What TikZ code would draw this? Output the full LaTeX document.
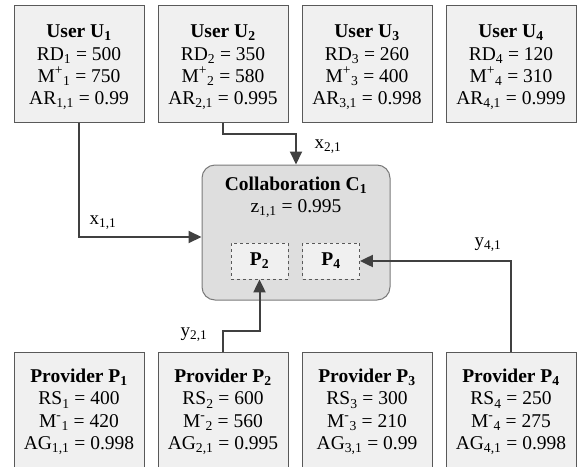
\documentclass[tikz,border=0pt]{standalone}
\usepackage{fontspec}
\setmainfont{Liberation Serif}
\usetikzlibrary{arrows.meta}
\definecolor{boxfill}{HTML}{F0F0F0}
\definecolor{boxline}{HTML}{595959}
\definecolor{collfill}{HTML}{DEDEDE}
\definecolor{collline}{HTML}{7A7A7A}
\definecolor{arrowcol}{HTML}{404040}
\tikzset{
  infobox/.style={draw=boxline, line width=1pt, fill=boxfill, minimum width=130pt, minimum height=117pt, inner sep=0pt},
  boxtext/.style={inner sep=0pt, align=center, font=\fontsize{19.5}{22.4}\selectfont},
  collbox/.style={draw=collline, line width=1pt, fill=collfill, rounded corners=13pt, minimum width=188pt, minimum height=135pt, inner sep=0pt},
  innerbox/.style={draw=boxline, dashed, line width=0.8pt, fill=boxfill, minimum width=57pt, minimum height=36pt, inner sep=0pt, font=\fontsize{19.5}{21}\selectfont\bfseries},
  flow/.style={draw=arrowcol, line width=2pt, -{Triangle[length=13pt,width=12pt]}},
  flowlabel/.style={font=\fontsize{19}{21}\selectfont, inner sep=0pt},
  plaintext/.style={font=\fontsize{19.5}{21}\selectfont, inner sep=0pt, align=center}
}
\begin{document}
\begin{tikzpicture}[x=1pt,y=-1pt]
\useasboundingbox (0,0) rectangle (577,466);
\begin{scope}
\clip (0,0) rectangle (577,466);
% user boxes
\node[infobox, label={[boxtext, yshift=-4pt]center:{\textbf{User U\textsubscript{1}}\\RD\textsubscript{1} = 500\\M\textsuperscript{+}\textsubscript{1} = 750\\AR\textsubscript{1,1} = 0.99}}] (u1) at (79,63.5) {};
\node[infobox, label={[boxtext, yshift=-4pt]center:{\textbf{User U\textsubscript{2}}\\RD\textsubscript{2} = 350\\M\textsuperscript{+}\textsubscript{2} = 580\\AR\textsubscript{2,1} = 0.995}}] (u2) at (223,63.5) {};
\node[infobox, label={[boxtext, yshift=-4pt]center:{\textbf{User U\textsubscript{3}}\\RD\textsubscript{3} = 260\\M\textsuperscript{+}\textsubscript{3} = 400\\AR\textsubscript{3,1} = 0.998}}] (u3) at (367,63.5) {};
\node[infobox, label={[boxtext, yshift=-4pt]center:{\textbf{User U\textsubscript{4}}\\RD\textsubscript{4} = 120\\M\textsuperscript{+}\textsubscript{4} = 310\\AR\textsubscript{4,1} = 0.999}}] (u4) at (511,63.5) {};
% provider boxes
\node[infobox, label={[boxtext, yshift=-1pt]center:{\textbf{Provider P\textsubscript{1}}\\RS\textsubscript{1} = 400\\M\textsuperscript{-}\textsubscript{1} = 420\\AG\textsubscript{1,1} = 0.998}}] (p1) at (79,411) {};
\node[infobox, label={[boxtext, yshift=-1pt]center:{\textbf{Provider P\textsubscript{2}}\\RS\textsubscript{2} = 600\\M\textsuperscript{-}\textsubscript{2} = 560\\AG\textsubscript{2,1} = 0.995}}] (p2) at (223,411) {};
\node[infobox, label={[boxtext, yshift=-1pt]center:{\textbf{Provider P\textsubscript{3}}\\RS\textsubscript{3} = 300\\M\textsuperscript{-}\textsubscript{3} = 210\\AG\textsubscript{3,1} = 0.99}}] (p3) at (367,411) {};
\node[infobox, label={[boxtext, yshift=-1pt]center:{\textbf{Provider P\textsubscript{4}}\\RS\textsubscript{4} = 250\\M\textsuperscript{-}\textsubscript{4} = 275\\AG\textsubscript{4,1} = 0.998}}] (p4) at (511,411) {};
% collaboration
\node[collbox] (c) at (296,232.5) {};
\node[plaintext, font=\fontsize{19.5}{21}\selectfont\bfseries] (ctitle) at (296,185) {Collaboration C\textsubscript{1}};
\node[plaintext] (cz) at (296,209) {z\textsubscript{1,1} = 0.995};
\node[innerbox] (ip2) at (259.5,261) {P\textsubscript{2}};
\node[innerbox] (ip4) at (331,261) {P\textsubscript{4}};
% connectors
\draw[flow] (u1.south) |- ([yshift=-4.5pt]c.west);
\draw[flow] (u2.south) -- ++(0,11) -| (c.north);
\draw[flow] (p2.north) -- ++(0,-21) -| (ip2.south);
\draw[flow] (p4.north) |- (ip4.east);
% labels
\node[flowlabel] (lx11) at (103,223) {x\textsubscript{1,1}};
\node[flowlabel] (lx21) at (328,147) {x\textsubscript{2,1}};
\node[flowlabel] (ly21) at (194,335) {y\textsubscript{2,1}};
\node[flowlabel] (ly41) at (488,245) {y\textsubscript{4,1}};
\end{scope}
\end{tikzpicture}
\end{document}
